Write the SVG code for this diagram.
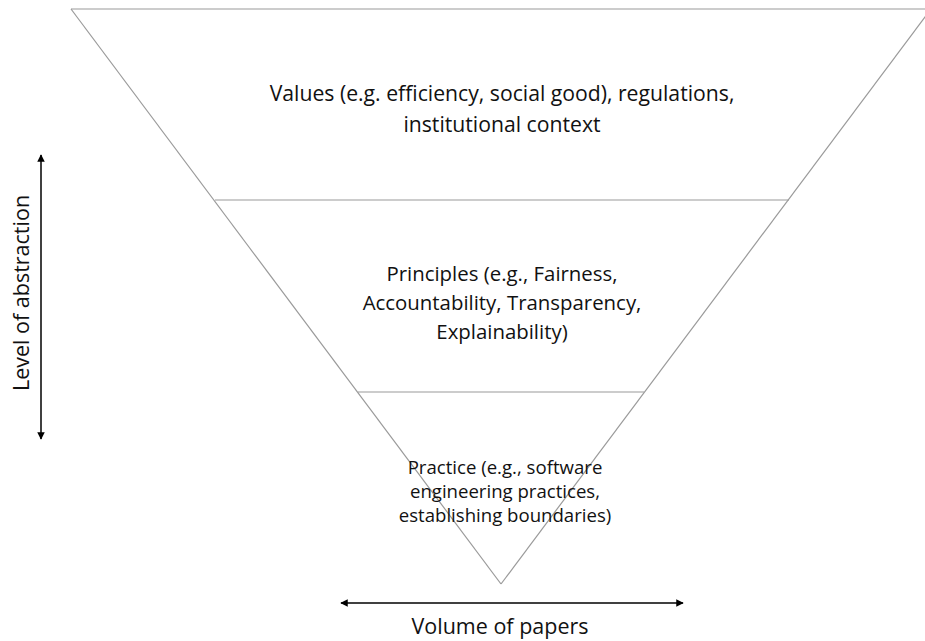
<svg xmlns="http://www.w3.org/2000/svg" width="925" height="641" viewBox="0 0 925 641">
  <style>
    .edge { stroke: #9a9a9a; stroke-width: 1.2; fill: none; }
    .axis { stroke: #000; stroke-width: 1.5; fill: none; }
    .lbl { font-family: "Open Sans", "Liberation Sans", Arial, sans-serif; fill: #111; text-anchor: middle; }
    .values { font-size: 21.2px; }
    .principles { font-size: 20.4px; }
    .practice { font-size: 18.6px; }
    .axislbl { font-size: 21.5px; }
  </style>
  <defs>
    <marker id="arrow" viewBox="0 0 10 10" refX="9" refY="5" markerWidth="5" markerHeight="5" orient="auto-start-reverse">
      <path d="M0,0 L10,5 L0,10 z" fill="#000"/>
    </marker>
  </defs>

  <!-- inverted triangle and its bands -->
  <g id="funnel">
    <line class="edge" x1="71" y1="9" x2="925" y2="9"/>
    <line class="edge" x1="71" y1="9" x2="501" y2="584"/>
    <line class="edge" x1="931" y1="9" x2="501" y2="584"/>
    <line class="edge" x1="215" y1="200" x2="789" y2="200"/>
    <line class="edge" x1="358" y1="392" x2="644" y2="392"/>
  </g>

  <g id="values">
    <text class="lbl values" x="502" y="101">Values (e.g. efficiency, social good), regulations,</text>
    <text class="lbl values" x="502" y="132">institutional context</text>
  </g>

  <g id="principles">
    <text class="lbl principles" x="502" y="281">Principles (e.g., Fairness,</text>
    <text class="lbl principles" x="502" y="310">Accountability, Transparency,</text>
    <text class="lbl principles" x="502" y="339">Explainability)</text>
  </g>

  <g id="practice">
    <text class="lbl practice" x="505" y="474">Practice (e.g., software</text>
    <text class="lbl practice" x="505" y="498">engineering practices,</text>
    <text class="lbl practice" x="505" y="522">establishing boundaries)</text>
  </g>

  <!-- axes -->
  <g id="connectors">
    <line class="axis" x1="41" y1="155" x2="41" y2="439" marker-start="url(#arrow)" marker-end="url(#arrow)"/>
    <line class="axis" x1="341" y1="603" x2="683" y2="603" marker-start="url(#arrow)" marker-end="url(#arrow)"/>
  </g>

  <g id="abstraction-label">
    <text class="lbl axislbl" transform="translate(29,293) rotate(-90)">Level of abstraction</text>
  </g>
  <g id="volume-label">
    <text class="lbl axislbl" x="500" y="634">Volume of papers</text>
  </g>
</svg>
